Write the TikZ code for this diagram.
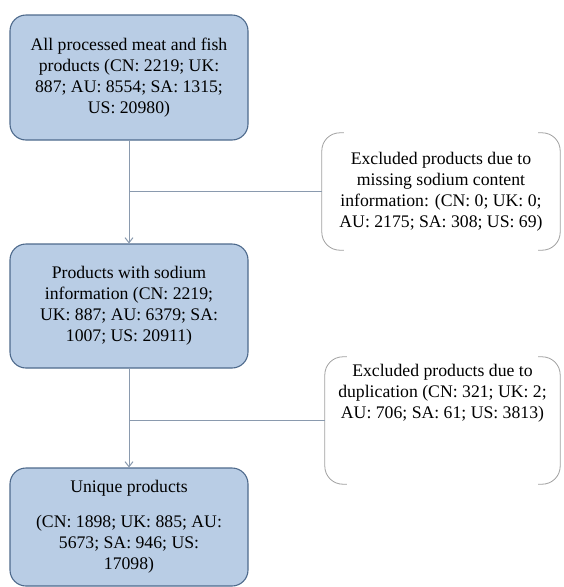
\documentclass[tikz,border=0pt]{standalone}
\usepackage{fontspec}
\setmainfont{Liberation Serif}
\definecolor{boxFill}{HTML}{B9CDE5}
\definecolor{boxEdge}{HTML}{4E6A8C}
\definecolor{linkGray}{HTML}{8A9AAE}
\definecolor{bracketGray}{HTML}{A0A0A0}
\usetikzlibrary{arrows.meta, positioning}

\begin{document}
\begin{tikzpicture}[
    x=1pt, y=-1pt,
    stage/.style={rectangle, draw=boxEdge, fill=boxFill, rounded corners=16pt, line width=1.1pt,
                  minimum width=238pt, inner sep=0pt, align=center, font=\fontsize{17.7}{21}\selectfont},
    excl/.style={rectangle, inner sep=0pt, align=center, font=\fontsize{17.7}{21}\selectfont},
    arrow/.style={-{Straight Barb[length=5pt, width=8pt]}, linkGray, line width=1pt},
    link/.style={linkGray, line width=1pt},
    bracket/.style={bracketGray, line width=0.8pt, rounded corners=18pt}
  ]
    \useasboundingbox (0,0) rectangle (563,587);
    \node[stage, minimum height=125pt] (allProducts) at (129,77.5)
      {All processed meat and fish\\products (CN: 2219; UK:\\887; AU: 8554; SA: 1315;\\US: 20980)};
    \node[stage, minimum height=124pt] (withSodium) at (129,306)
      {Products with sodium\\information (CN: 2219;\\UK: 887; AU: 6379; SA:\\1007; US: 20911)};
    \node[stage, minimum height=118pt] (uniqueProducts) at (129,527)
      {Unique products\\[14pt](CN: 1898; UK: 885; AU:\\5673; SA: 946; US:\\17098)};
    \node[excl, minimum width=238pt, minimum height=117pt] (missingSodium) at (441,191.5)
      {Excluded products due to\\missing sodium content\\information: (CN: 0; UK: 0;\\AU: 2175; SA: 308; US: 69)};
    \node[excl, minimum width=235pt, minimum height=127pt] (duplicates) at (442.5,420.5)
      {\parbox[c][112pt][t]{230pt}{\centering Excluded products due to\\duplication (CN: 321; UK: 2;\\AU: 706; SA: 61; US: 3813)}};
    % bracket frames of the side boxes
    \foreach \n in {missingSodium, duplicates} {
      \draw[bracket] ([xshift=22pt]\n.north west) -- (\n.north west) -- (\n.south west) -- ([xshift=22pt]\n.south west);
      \draw[bracket] ([xshift=-22pt]\n.north east) -- (\n.north east) -- (\n.south east) -- ([xshift=-22pt]\n.south east);
    }
    \draw[arrow] (allProducts) -- (withSodium);
    \draw[arrow] (withSodium) -- (uniqueProducts);
    \draw[link] (allProducts.south |- missingSodium.west) -- (missingSodium.west);
    \draw[link] (withSodium.south |- duplicates.west) -- (duplicates.west);
  \end{tikzpicture}
\end{document}
